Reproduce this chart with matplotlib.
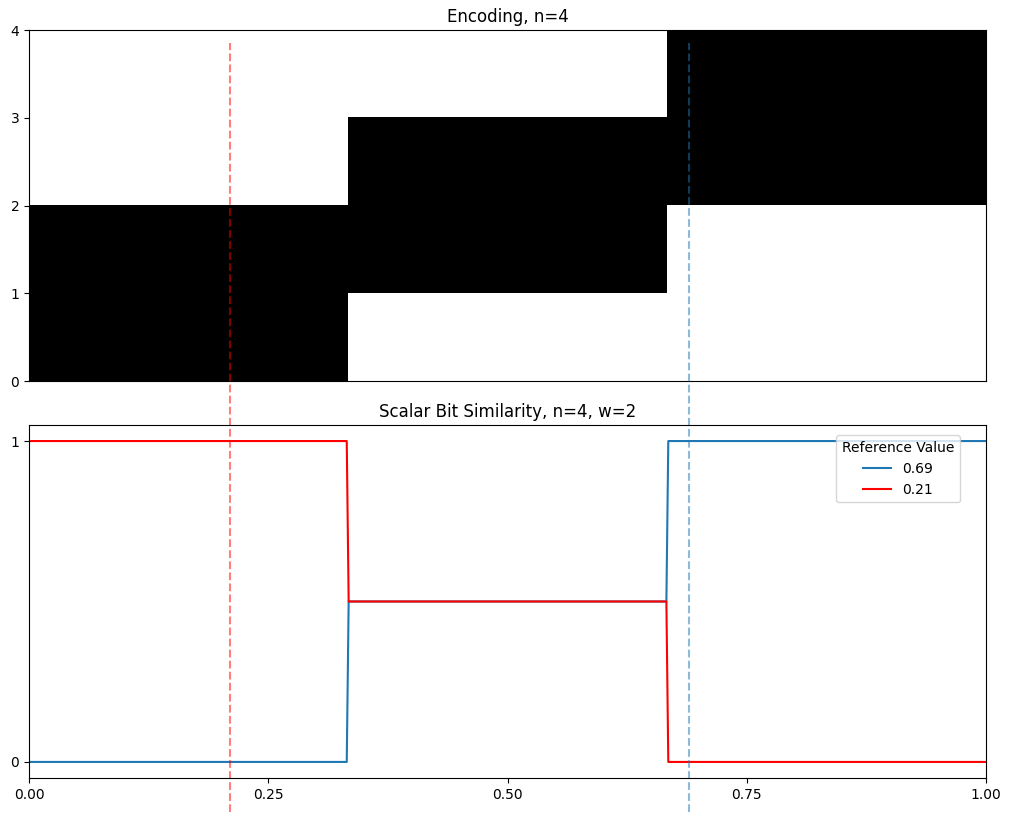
import matplotlib
matplotlib.use("Agg")
import matplotlib.pyplot as plt
import numpy as np
from matplotlib.transforms import blended_transform_factory

n = 4
w = 2
encoding = [[1, 0, 0],
            [1, 1, 0],
            [0, 1, 1],
            [0, 0, 1]]  # rows = bits 0..3, cols = buckets
ref_values = [0.69, 0.21]
ref_colors = ["#1f77b4", "red"]
xs = [0.0, 0.332, 0.334, 0.666, 0.668, 1.0]
sim_069 = [0.0, 0.0, 0.5, 0.5, 1.0, 1.0]
sim_021 = [1.0, 1.0, 0.5, 0.5, 0.0, 0.0]

fig = plt.figure(figsize=(10.11, 8.23), dpi=100)
ax1 = fig.add_axes([0.0287, 0.537, 0.9466, 0.4265])
ax2 = fig.add_axes([0.0287, 0.0547, 0.9466, 0.4289])

ax1.imshow(np.array(encoding), cmap="gray_r", origin="lower", extent=[0, 1, 0, 4],
           aspect="auto", interpolation="nearest", vmin=0, vmax=1)
ax1.set_xlim(0, 1)
ax1.set_ylim(0, 4)
ax1.set_xticks([])
ax1.set_yticks(range(5))
ax1.set_title("Encoding, n=4")

ax2.plot(xs, sim_069, color=ref_colors[0], label="0.69")
ax2.plot(xs, sim_021, color=ref_colors[1], label="0.21")
ax2.set_xlim(0, 1)
ax2.set_ylim(-0.05, 1.05)
ax2.set_yticks([0, 1])
ax2.set_xticks([0, 0.25, 0.5, 0.75, 1.0])
ax2.set_xticklabels(["0.00", "0.25", "0.50", "0.75", "1.00"])
ax2.set_title("Scalar Bit Similarity, n=4, w=2")
ax2.legend(title="Reference Value", loc="upper right", bbox_to_anchor=(0.98, 0.99))

tr = blended_transform_factory(ax2.transData, fig.transFigure)
for v, c in zip(ref_values, ref_colors):
    ax2.plot([v, v], [0.013, 0.948], transform=tr, color=c, ls="--", alpha=0.5, clip_on=False)

fig.savefig("out.png", dpi=100)
